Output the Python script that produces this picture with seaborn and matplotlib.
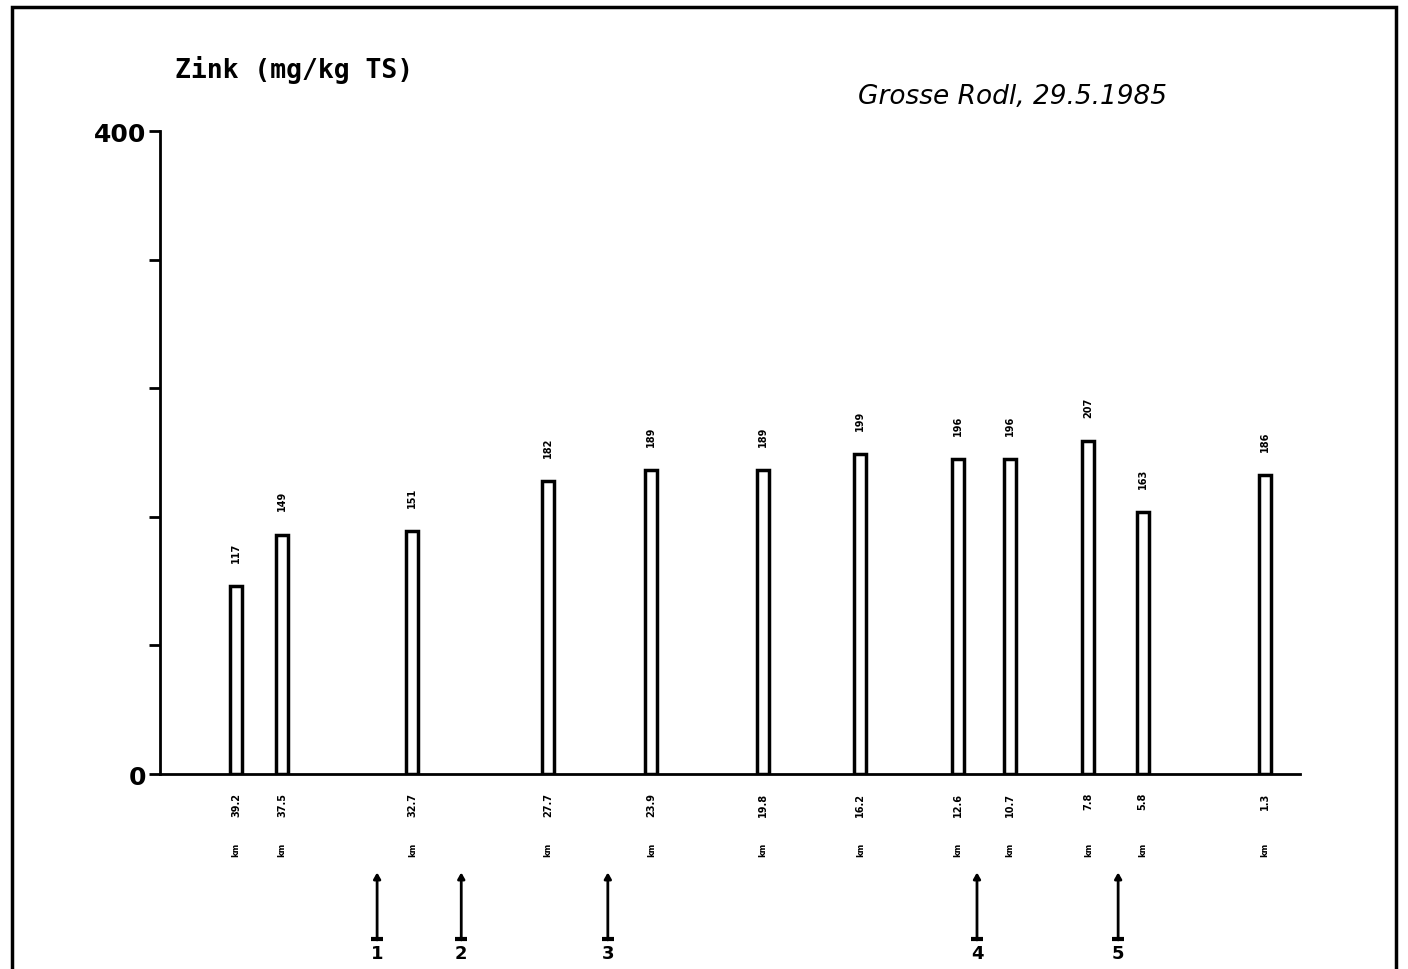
import matplotlib
matplotlib.use('Agg')
import matplotlib.pyplot as plt
import matplotlib.transforms as mtransforms
from matplotlib.patches import Rectangle
import seaborn as sns
import pandas as pd

#data (Grosse Rodl, 29.5.1985)
km = [39.2, 37.5, 32.7, 27.7, 23.9, 19.8, 16.2, 12.6, 10.7, 7.8, 5.8, 1.3]
zink = [117, 149, 151, 182, 189, 189, 199, 196, 196, 207, 163, 186]
#tributary markers below the axis
zufluss_km = [34.0, 30.9, 25.5, 11.9, 6.7]
zufluss_nr = ['1', '2', '3', '4', '5']
y_ticks = [0, 80, 160, 240, 320, 400]
y_ticklabels = ['0', '', '', '', '', '400']

df = pd.DataFrame({'km': km, 'zink': zink})

sns.set_style('white')
plt.rcParams['font.family'] = ['DejaVu Sans']
plt.rcParams['text.color'] = 'black'
plt.rcParams['ytick.color'] = 'black'

fig = plt.figure(figsize=(14.08, 9.70), dpi=100)
ax = fig.add_axes([0.1136, 0.201, 0.8097, 0.6629])

sns.barplot(data=df, x='km', y='zink', native_scale=True, width=0.26,
            color='white', edgecolor='black', linewidth=2.5, ax=ax)

ax.set_xlim(42, 0)
ax.set_ylim(0, 400)
ax.set_yticks(y_ticks)
ax.set_yticklabels(y_ticklabels, fontsize=18, fontweight='bold', color='black')
ax.set_xticks([])
ax.tick_params(axis='y', direction='out', length=8, width=2, pad=2, left=True)
ax.set_xlabel('')
ax.set_ylabel('')
sns.despine(ax=ax, top=True, right=True)
for side in ['left', 'bottom']:
    ax.spines[side].set_linewidth(2)
    ax.spines[side].set_color('black')

#value labels above bars, km labels below axis
for x, y in zip(km, zink):
    ax.text(x, y + 15, str(y), rotation=90, ha='center', va='bottom',
            fontsize=7, fontweight='bold', color='black')
    ax.annotate(f'{x:.1f}', xy=(x, 0), xytext=(0, -13), textcoords='offset points',
                rotation=90, ha='center', va='top', fontsize=7, fontweight='bold',
                color='black', annotation_clip=False)
    ax.annotate('km', xy=(x, 0), xytext=(0, -49), textcoords='offset points',
                rotation=90, ha='center', va='top', fontsize=6, fontweight='bold',
                color='black', annotation_clip=False)

#tributary arrows
trans = mtransforms.blended_transform_factory(ax.transData, ax.transAxes)
for x, nr in zip(zufluss_km, zufluss_nr):
    ax.annotate('', xy=(x, -0.153), xytext=(x, -0.258), xycoords=trans, textcoords=trans,
                arrowprops=dict(arrowstyle='-|>,head_length=0.35,head_width=0.2',
                                color='black', lw=2, shrinkA=0, shrinkB=0),
                annotation_clip=False)
    ax.plot([x], [-0.256], transform=trans, marker='_', markersize=8,
            markeredgewidth=3, color='black', clip_on=False)
    ax.text(x, -0.265, nr, transform=trans, ha='center', va='top',
            fontsize=13, fontweight='bold', color='black', clip_on=False)

#titles
fig.text(175 / 1408, 1 - 70 / 970, 'Zink (mg/kg TS)', family='DejaVu Sans Mono',
         fontsize=19, fontweight='bold', ha='left', va='center', color='black')
fig.text(858 / 1408, 1 - 97 / 970, 'Grosse Rodl, 29.5.1985', fontsize=19,
         style='italic', ha='left', va='center', color='black')

#frame around the whole sheet (bottom edge runs off the page)
top = 1 - 8 / 970
fig.patches.append(Rectangle((12 / 1408, -0.02), (1396 - 12) / 1408, top + 0.02,
                             transform=fig.transFigure, fill=False,
                             edgecolor='black', linewidth=2.5))

fig.savefig('out.png', dpi=100)
